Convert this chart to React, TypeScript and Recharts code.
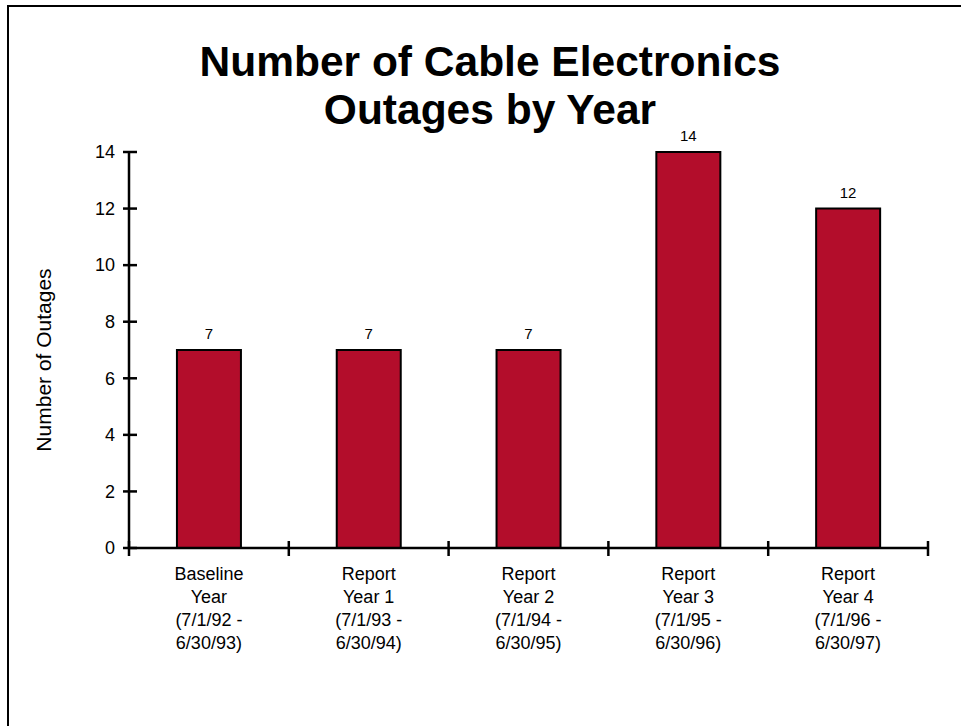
import { BarChart, Bar, XAxis, YAxis, LabelList } from 'recharts'

const categories = ['Baseline Year', 'Report Year 1', 'Report Year 2', 'Report Year 3', 'Report Year 4']
const categoryLines = [
    ['Baseline', 'Year', '(7/1/92 -', '6/30/93)'],
    ['Report', 'Year 1', '(7/1/93 -', '6/30/94)'],
    ['Report', 'Year 2', '(7/1/94 -', '6/30/95)'],
    ['Report', 'Year 3', '(7/1/95 -', '6/30/96)'],
    ['Report', 'Year 4', '(7/1/96 -', '6/30/97)'],
]
const outages = [7, 7, 7, 14, 12]
const yTicks = [0, 2, 4, 6, 8, 10, 12, 14]

const data = categories.map((name, i) => ({ name, outages: outages[i] }))

const FONT = '"Liberation Sans", Arial, sans-serif'
const W = 961
const H = 726
const MARGIN = { top: 152, right: 33, bottom: 177, left: 128 }
// width of one category band, used to put tick marks between the bars
const BAND = (W - MARGIN.left - 1 - MARGIN.right) / categories.length

const YTick = ({ x, y, payload }: any) => (
    <g>
        <line x1={x - 6} x2={x + 8} y1={y} y2={y} stroke="#000" strokeWidth={2.5} />
        <text x={x - 14} y={y} dy="0.35em" textAnchor="end" fontSize={18} fill="#000">{payload.value}</text>
    </g>
)

const CategoryTick = ({ x, y, index }: any) => {
    const lines = categoryLines[index] || []
    const left = x - BAND / 2
    const right = x + BAND / 2
    return (
        <g>
            <line x1={left} x2={left} y1={y - 7} y2={y + 8} stroke="#000" strokeWidth={2.5} />
            {index === categories.length - 1 && (
                <line x1={right} x2={right} y1={y - 7} y2={y + 8} stroke="#000" strokeWidth={2.5} />
            )}
            <text x={x} y={y} textAnchor="middle" fontSize={18} fill="#000">
                {lines.map((l, i) => (
                    <tspan key={i} x={x} y={y + 32 + i * 23}>{l}</tspan>
                ))}
            </text>
        </g>
    )
}

export default function App() {
    return (
        <div style={{ position: 'fixed', left: 0, top: 0, width: W, height: H, overflow: 'hidden', background: '#fff', fontFamily: FONT }}>
            {/* slide frame, only top and left edges visible */}
            <div style={{ position: 'absolute', left: 7, top: 5, width: 1000, height: 800, border: '2px solid #000' }} />
            <div style={{ position: 'absolute', left: 0, top: 38, width: 980, textAlign: 'center', fontSize: 42.5, fontWeight: 'bold', lineHeight: '48px', color: '#000' }}>
                Number of Cable Electronics<br />Outages by Year
            </div>
            <div style={{ position: 'absolute', left: 44, top: 360, transform: 'translate(-50%, -50%) rotate(-90deg)', whiteSpace: 'nowrap', fontSize: 21, color: '#000' }}>
                Number of Outages
            </div>
            <div style={{ position: 'absolute', left: 0, top: 0 }}>
                <BarChart width={W} height={H} data={data} margin={MARGIN} barCategoryGap="30%">
                    <XAxis dataKey="name" height={1} interval={0}
                        axisLine={{ stroke: '#000', strokeWidth: 2.5 }} tickLine={false} tickSize={0} tickMargin={0} tick={<CategoryTick />} />
                    <YAxis width={1} domain={[0, 14]} ticks={yTicks} interval={0}
                        axisLine={{ stroke: '#000', strokeWidth: 2.5 }} tickLine={false} tickSize={0} tickMargin={0} tick={<YTick />} />
                    <Bar dataKey="outages" fill="#B30D2B" stroke="#000" strokeWidth={2} isAnimationActive={false}>
                        <LabelList dataKey="outages" position="top" offset={11} fontSize={15} fill="#000" />
                    </Bar>
                </BarChart>
            </div>
        </div>
    )
}
